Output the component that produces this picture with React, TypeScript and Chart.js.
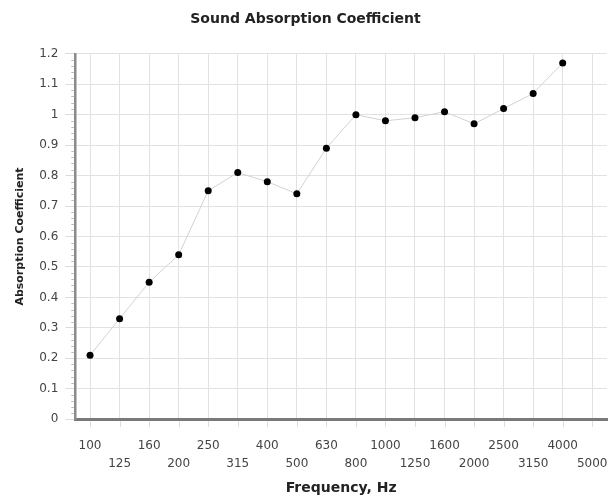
import React, { useEffect, useRef } from "react";
import { Chart, registerables } from "chart.js";

Chart.register(...registerables);

const frequencies = ["100", "125", "160", "200", "250", "315", "400", "500", "630", "800", "1000", "1250", "1600", "2000", "2500", "3150", "4000", "5000"];
const absorption = [0.21, 0.33, 0.45, 0.54, 0.75, 0.81, 0.78, 0.74, 0.89, 1.0, 0.98, 0.99, 1.01, 0.97, 1.02, 1.07, 1.17];
const yMin = 0;
const yMax = 1.2;
const yStep = 0.1;
const yMinorStep = 0.02;

const FONT = "'DejaVu Sans', Verdana, sans-serif";

const extraTicks = {
  id: "extraTicks",
  afterDraw(chart: any) {
    const y = chart.scales.y;
    const x = chart.scales.x;
    const ctx = chart.ctx;
    const { left, bottom } = chart.chartArea;
    ctx.save();
    ctx.strokeStyle = "#bdbdbd";
    ctx.lineWidth = 1;
    const n = Math.round((yMax - yMin) / yMinorStep);
    for (let i = 0; i <= n; i++) {
      if (i % 5 === 0) continue;
      const v = yMin + i * yMinorStep;
      const py = Math.round(y.getPixelForValue(v)) + 0.5;
      ctx.beginPath();
      ctx.moveTo(left - 4, py);
      ctx.lineTo(left - 1, py);
      ctx.stroke();
    }
    ctx.strokeStyle = "#dcdcdc";
    for (let i = 0; i < frequencies.length; i++) {
      const px = Math.round(x.getPixelForTick(i)) + 0.5;
      ctx.beginPath();
      ctx.moveTo(px, bottom + 2);
      ctx.lineTo(px, bottom + 8);
      ctx.stroke();
    }
    ctx.restore();
  },
};

export default function App() {
  const ref = useRef<HTMLCanvasElement>(null);
  useEffect(() => {
    document.body.style.margin = "0";
    const chart = new Chart(ref.current!, {
      type: "line",
      data: {
        labels: frequencies,
        datasets: [
          {
            data: absorption,
            borderColor: "#d2d2d2",
            borderWidth: 1,
            pointRadius: 3.5,
            pointBackgroundColor: "#000",
            pointBorderColor: "#000",
            pointBorderWidth: 0,
            tension: 0,
            fill: false,
          },
        ],
      },
      options: {
        animation: false,
        responsive: true,
        maintainAspectRatio: false,
        layout: { padding: { left: 4, right: 4, top: 0, bottom: 1 } },
        plugins: {
          legend: { display: false },
          tooltip: { enabled: false },
          title: {
            display: true,
            text: "Sound Absorption Coefficient",
            color: "#222",
            font: { family: FONT, size: 14, weight: "bold" },
            padding: { top: 11, bottom: 26 },
          },
        },
        scales: {
          x: {
            offset: true,
            grid: {
              color: "#e2e2e2",
              lineWidth: 1,
              offset: false,
              drawTicks: true,
              tickLength: 18,
              tickColor: "rgba(0,0,0,0)",
            },
            border: { display: true, color: "#7a7a7a", width: 3 },
            ticks: {
              autoSkip: false,
              maxRotation: 0,
              color: "#444",
              font: { family: FONT, size: 12, lineHeight: 1.5 },
              padding: 0,
              callback: (_v: any, i: number) => (i % 2 === 0 ? [frequencies[i], ""] : ["", frequencies[i]]),
            },
            title: {
              display: true,
              text: "Frequency, Hz",
              color: "#222",
              font: { family: FONT, size: 14, weight: "bold" },
              padding: { top: 7, bottom: 0 },
            },
          },
          y: {
            min: yMin,
            max: yMax,
            grid: {
              color: "#e2e2e2",
              lineWidth: 1,
              drawTicks: true,
              tickLength: 10,
              tickColor: "#dcdcdc",
            },
            border: { display: true, color: "#8a8a8a", width: 2.5 },
            ticks: {
              stepSize: yStep,
              color: "#444",
              font: { family: FONT, size: 12 },
              padding: 7,
              callback: (v: any) => String(Math.round(Number(v) * 10) / 10),
            },
            title: {
              display: true,
              text: "Absorption Coefficient",
              color: "#222",
              font: { family: FONT, size: 11, weight: "bold" },
              padding: { top: 10, bottom: 5 },
            },
          },
        },
      },
      plugins: [extraTicks],
    });
    return () => chart.destroy();
  }, []);
  return (
    <div style={{ width: 611, height: 498, position: "relative" }}>
      <canvas ref={ref} />
    </div>
  );
}
